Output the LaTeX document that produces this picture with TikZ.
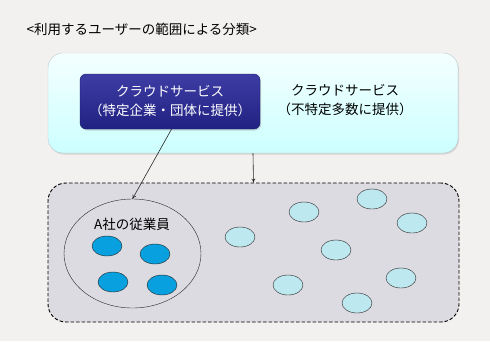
\documentclass[tikz,border=0pt]{standalone}
\usepackage{fontspec}
\setmainfont{Noto Sans CJK JP}
\usetikzlibrary{arrows.meta, positioning, shapes.geometric, shadows}

\definecolor{bgpaper}{HTML}{F2F1EF}
\definecolor{usergray}{HTML}{DCDBE1}
\definecolor{staffblue}{HTML}{08A0DE}
\definecolor{otherblue}{HTML}{BEE8EF}
\definecolor{navy}{HTML}{27279A}

\begin{document}
\begin{tikzpicture}[
  x=1pt, y=-1pt,
  every node/.style={font=\fontsize{13.5}{19}\selectfont},
  cloudbox/.style={draw=cyan!25!gray!50, rounded corners=15pt, top color=cyan!4, bottom color=cyan!20,
    minimum width=410pt, minimum height=100pt, drop shadow={opacity=0.25, shadow xshift=1pt, shadow yshift=-1.5pt}},
  privbox/.style={draw=navy!70!black, rounded corners=6pt, top color=navy!90!white, bottom color=navy!85!black,
    text=white, align=center, minimum width=180pt, minimum height=55pt,
    drop shadow={opacity=0.3, shadow xshift=1pt, shadow yshift=-1.5pt}},
  userarea/.style={draw=black, line width=0.9pt, dash pattern=on 3.5pt off 2pt, rounded corners=18pt, fill=usergray,
    minimum width=411pt, minimum height=139pt},
  staff/.style={draw=black!85, ellipse, fill=staffblue, minimum width=30pt, minimum height=20pt, inner sep=0pt},
  other/.style={draw=black!85, ellipse, fill=otherblue, minimum width=30pt, minimum height=20pt, inner sep=0pt},
  arr/.style={-{To[length=4pt, width=4pt]}, semithick, black!85},
]
  \fill[bgpaper] (0,0) rectangle (490,341);
  \useasboundingbox (0,0) rectangle (490,341);

  \node[anchor=west] (title) at (23,29) {<利用するユーザーの範囲による分類>};

  \node[cloudbox] (public) at (253,103) {};
  \node[privbox] (private) at (170,101.5) {クラウドサービス\\（特定企業・団体に提供）};
  \node[align=center] (publictext) at (345,100.5) {クラウドサービス\\（不特定多数に提供）};

  \node[userarea] (users) at (253.5,252.5) {};
  \node[draw=black!85, ellipse, minimum width=137pt, minimum height=109pt] (company) at (132.5,253.5) {};
  \node (companylabel) at (132,224) {A社の従業員};

  % employees of company A
  \node[staff] (s1) at (107,246) {};
  \node[staff] (s2) at (155,254) {};
  \node[staff] (s3) at (113,282) {};
  \node[staff] (s4) at (162,285) {};

  % unspecified users
  \node[other] (u1) at (240,237) {};
  \node[other] (u2) at (304,212) {};
  \node[other] (u3) at (372,199) {};
  \node[other] (u4) at (412,223) {};
  \node[other] (u5) at (336,250) {};
  \node[other] (u6) at (288,285) {};
  \node[other] (u7) at (401,278) {};
  \node[other] (u8) at (357,303) {};

  \draw[arr] ([xshift=1.5pt]private.south) -- (company.north);
  \draw[arr] (public.south) -- (users.north);
\end{tikzpicture}
\end{document}
